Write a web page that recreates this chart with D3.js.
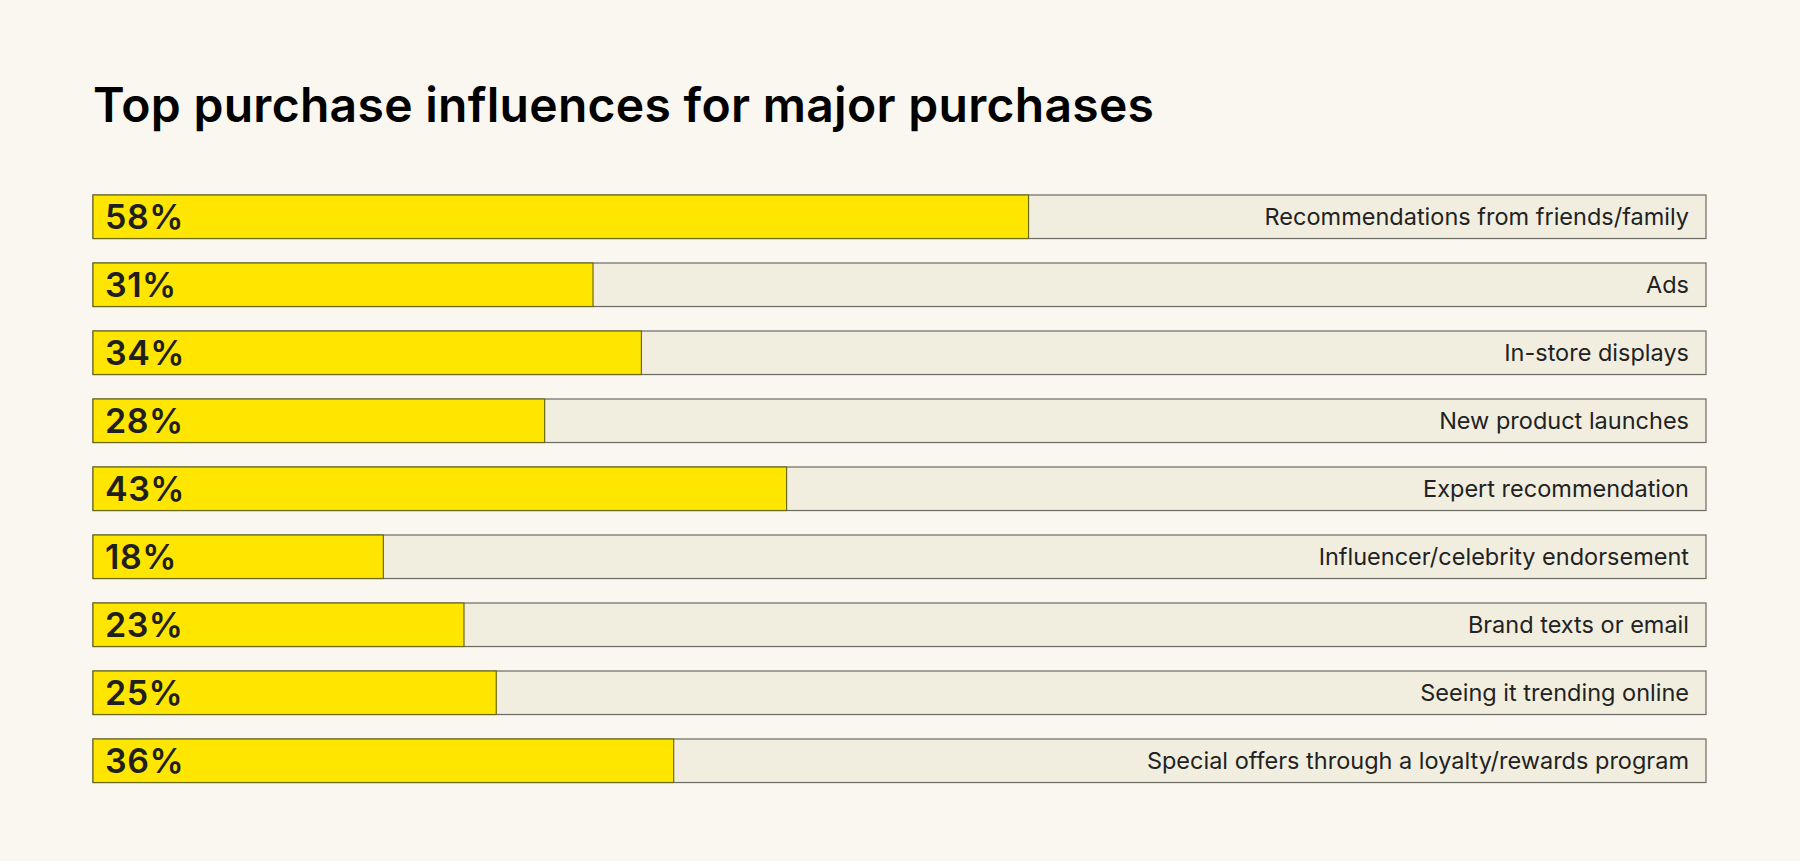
<!DOCTYPE html>
<html><head><meta charset="utf-8">
<script src="https://cdn.jsdelivr.net/npm/d3@7"></script>
<style>body{margin:0;background:#f9f7f0;}svg{display:block;font-family:Inter,"Noto Sans",sans-serif;}</style>
</head><body><svg id="c" width="1800" height="861"></svg>
<script>
const title = "Top purchase influences for major purchases";
const categories = ["Recommendations from friends/family","Ads","In-store displays","New product launches","Expert recommendation","Influencer/celebrity endorsement","Brand texts or email","Seeing it trending online","Special offers through a loyalty/rewards program"];
const values = [58,31,34,28,43,18,23,25,36];

const svg = d3.select("#c");
svg.append("rect").attr("width",1800).attr("height",861).attr("fill","#f9f7f0");
svg.append("text").attr("x",93).attr("y",122).attr("font-size",48).attr("font-weight",600)
  .attr("fill","#000").attr("letter-spacing","0.3").text(title);

const step = 68, pad = 0.36;
const x = d3.scaleLinear().domain([0,100]).range([93,1706]);
const y = d3.scaleBand().domain(categories).range([195,195+step*9-step*pad]).paddingInner(pad).paddingOuter(0);

const g = svg.append("g").selectAll("g").data(categories).join("g");
g.append("rect").attr("x",x(0)).attr("y",d=>y(d)).attr("width",x(100)-x(0)).attr("height",y.bandwidth())
  .attr("fill","#f1eee0").attr("stroke","#6b6a63").attr("stroke-width",1.2);
g.append("rect").attr("x",x(0)).attr("y",d=>y(d)).attr("width",(d,i)=>x(values[i])-x(0)).attr("height",y.bandwidth())
  .attr("fill","#ffe600").attr("stroke","#6b6a10").attr("stroke-width",1.2);
g.append("text").attr("x",x(0)+12).attr("y",d=>y(d)+y.bandwidth()/2).attr("dy","0.36em")
  .attr("font-size",34).attr("font-weight",600).attr("letter-spacing","0.5").attr("fill","#1f1f1f").text((d,i)=>values[i]+"%");
g.append("text").attr("x",x(100)-17).attr("y",d=>y(d)+y.bandwidth()/2).attr("dy","0.36em")
  .attr("text-anchor","end").attr("font-size",23.5).attr("fill","#222").text(d=>d);
</script></body></html>
